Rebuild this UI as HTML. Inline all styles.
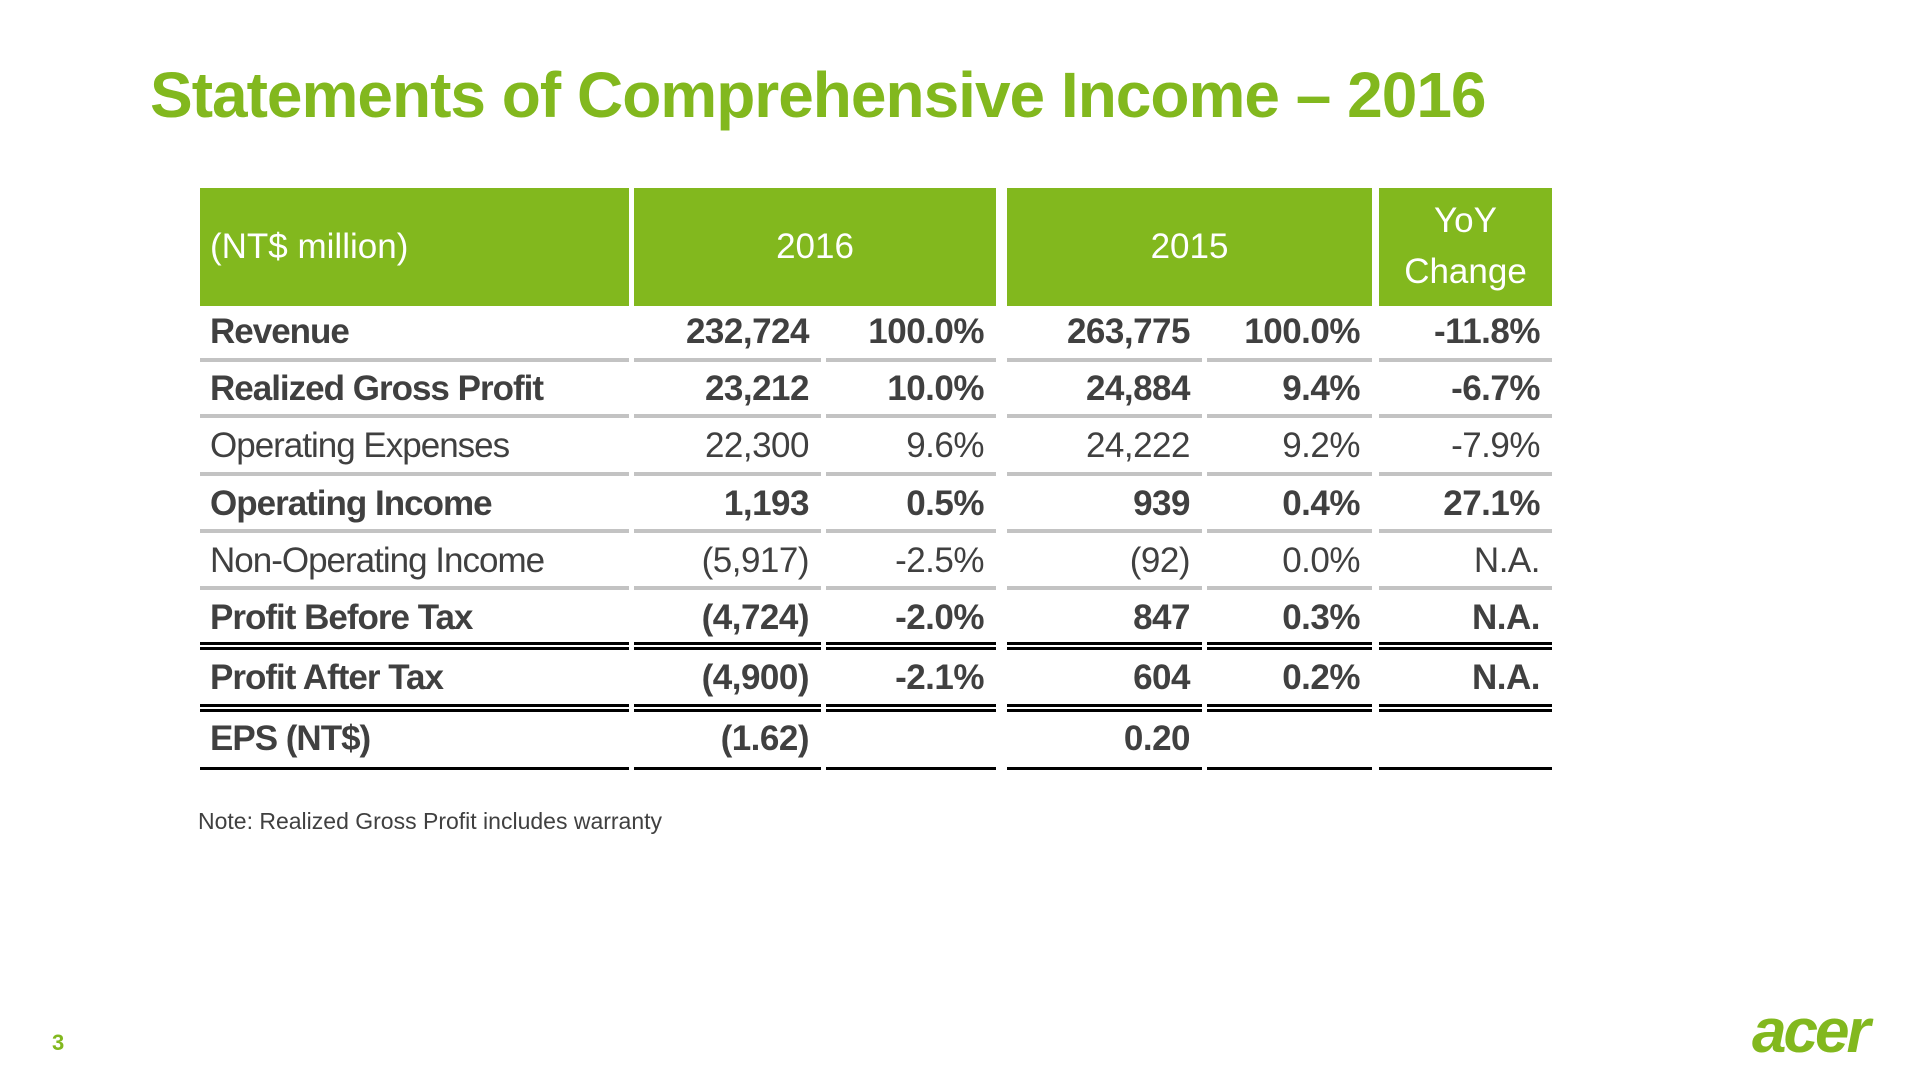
<!DOCTYPE html>
<html><head><meta charset="utf-8">
<style>
body{margin:0;width:1920px;height:1080px;background:#fff;position:relative;overflow:hidden;font-family:"Liberation Sans",sans-serif;}
.abs{position:absolute;}
#title{left:150px;top:58px;font-size:64px;font-weight:bold;color:#82b81e;letter-spacing:-1px;white-space:nowrap;}
.hd{background:#82b81e;color:#fff;font-size:35px;display:flex;align-items:center;justify-content:center;text-align:center;line-height:1.45;}
.cell{font-size:35px;color:#404040;white-space:nowrap;letter-spacing:-0.5px;}
.line{height:3px;}
</style></head><body>
<div id="title" class="abs">Statements of Comprehensive Income – 2016</div>
<div id="tbl"></div>
<div class="abs" style="left:198px;top:808px;font-size:23px;color:#404040;">Note: Realized Gross Profit includes warranty</div>
<div class="abs" style="left:52px;top:1030px;font-size:22px;font-weight:bold;color:#82b81e;">3</div>
<div class="abs" style="left:1752px;top:996px;font-size:62px;font-weight:bold;font-style:italic;color:#82b81e;letter-spacing:-3px;">acer</div>
<script>
const labels=["Revenue","Realized Gross Profit","Operating Expenses","Operating Income","Non-Operating Income","Profit Before Tax","Profit After Tax","EPS (NT$)"];
const bold=[1,1,0,1,0,1,1,1];
const v2016=["232,724","23,212","22,300","1,193","(5,917)","(4,724)","(4,900)","(1.62)"];
const p2016=["100.0%","10.0%","9.6%","0.5%","-2.5%","-2.0%","-2.1%",""];
const v2015=["263,775","24,884","24,222","939","(92)","847","604","0.20"];
const p2015=["100.0%","9.4%","9.2%","0.4%","0.0%","0.3%","0.2%",""];
const yoy=["-11.8%","-6.7%","-7.9%","27.1%","N.A.","N.A.","N.A.",""];
const lineType=["g","g","g","g","g","d","d","s"];
const tbl=document.getElementById('tbl');
function mk(cls,l,t,w,h,txt){const d=document.createElement('div');d.className='abs '+cls;d.style.left=l+'px';d.style.top=t+'px';d.style.width=w+'px';d.style.height=h+'px';if(txt!==undefined)d.innerHTML=txt;tbl.appendChild(d);return d;}
const H=[[200,429,'(NT$ million)','left'],[634,362,'2016','center'],[1007,365,'2015','center'],[1379,173,'YoY<br>Change','center']];
H.forEach((h,i)=>{const d=mk('hd',h[0],188,h[1],118,h[2]);if(h[3]==='left'){d.style.justifyContent='flex-start';d.style.paddingLeft='10px';d.style.width=(h[1]-10)+'px';}

});
const cols=[[200,429],[634,187],[826,170],[1007,195],[1207,165],[1379,173]];
const bottoms=[362,418,476,533,590,648,710,770];
let rowTop=306;
labels.forEach((lab,r)=>{
  const b=bottoms[r];
  const vals=[lab,v2016[r],p2016[r],v2015[r],p2015[r],yoy[r]];
  vals.forEach((v,c)=>{
    const d=mk('cell',cols[c][0],rowTop,cols[c][1]-12,b-rowTop-4,v);
    d.style.display='flex';d.style.alignItems='center';
    d.style.fontWeight=bold[r]?'bold':'normal';
    if(c===0){d.style.paddingLeft='10px';d.style.letterSpacing='-1px';}
    else d.style.justifyContent='flex-end';
    
    
    const t=lineType[r];
    if(t==='g'){const l=mk('line',cols[c][0],b-4,cols[c][1],4);l.style.background='#c3c3c3';
      
      }
    else if(t==='d'){const l=mk('line',cols[c][0],b-6,cols[c][1],8);l.style.borderTop='3px solid #000';l.style.borderBottom='3px solid #000';l.style.height='2px';
      
      }
    else {const l=mk('line',cols[c][0],b-3,cols[c][1],3);l.style.background='#000';
      
      }
  });
  rowTop=b+2;
});
</script>
</body></html>
